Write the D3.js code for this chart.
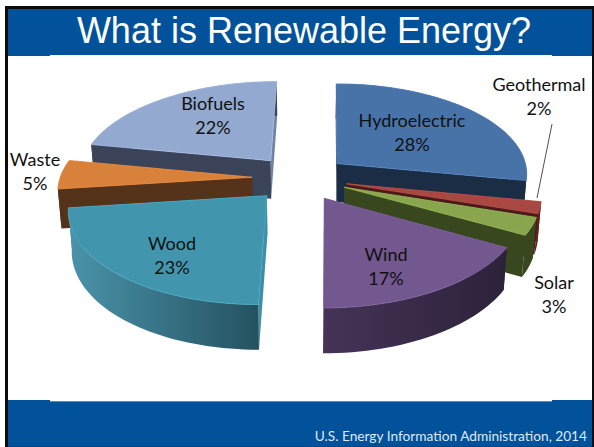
<!DOCTYPE html>
<html>
<head>
<meta charset="utf-8">
<script src="https://cdn.jsdelivr.net/npm/d3@7"></script>
<style>
html, body { margin: 0; padding: 0; background: #fff; overflow: hidden; }
svg { display: block; }
</style>
</head>
<body>
<div id="chart"></div>
<script>
// --- Data ---
const categories = ["Hydroelectric", "Geothermal", "Solar", "Wind", "Wood", "Waste", "Biofuels"];
const shares = [28, 2, 3, 17, 23, 5, 22];

// --- Colours, one per category ---
const topColors = ["#4873a9", "#a94743", "#89a64f", "#73578f", "#4196ae", "#d7813b", "#93a9cf"];
const startWallColors = ["#1d2f47", "#4a1b1a", "#39471f", "#2f2339", "#3f8ea6", "#55321a", "#3a4358"];
const endWallColors = ["#1b2d44", "#4a1b1a", "#39471f", "#4c3a60", "#3f8ea6", "#55321a", "#6f83a5"];
const rimLeftColors = ["#1b2d44", "#6d1f1c", "#39471f", "#463358", "#4a93ab", "#55321a", "#3a4358"];
const rimRightColors = ["#1b2d44", "#4a1b1a", "#39471f", "#2c2239", "#24525f", "#55321a", "#3a4358"];

const width = 594, height = 447;

// --- Fake 3D projection of the flat pie ---
const cx = 300, cy = 178;
const radiusX = 192, radiusY = 92;
const explode = 0.25;
const perspective = 0.115;
const skew = -3.5;
const depth = 39;
const depthShrink = 0.985;

function project(X, Y, z) {
    const p = 1 / (1 - perspective * Y);
    const q = z ? depthShrink : 1;
    return [cx + (radiusX * X * q + skew * Y) * p, cy + radiusY * Y * p + (z ? depth * p : 0)];
}

const svg = d3.select("#chart").append("svg")
    .attr("width", width).attr("height", height)
    .attr("viewBox", [0, 0, width, height]);

const defs = svg.append("defs");

// --- Slide frame ---
const frameBlue = "#01529b";
svg.append("rect").attr("x", 5).attr("y", 6).attr("width", 589).attr("height", 441).attr("fill", "#0b0b0b");
svg.append("rect").attr("x", 8).attr("y", 9).attr("width", 584).attr("height", 438).attr("fill", "#fff");
svg.append("rect").attr("x", 8).attr("y", 9).attr("width", 584).attr("height", 46).attr("fill", frameBlue);
svg.append("rect").attr("x", 8).attr("y", 55).attr("width", 42).attr("height", 1).attr("fill", frameBlue);
svg.append("rect").attr("x", 552).attr("y", 55).attr("width", 40).attr("height", 1).attr("fill", frameBlue);
svg.append("rect").attr("x", 8).attr("y", 402).attr("width", 584).attr("height", 45).attr("fill", frameBlue);
svg.append("rect").attr("x", 8).attr("y", 400).attr("width", 42).attr("height", 2).attr("fill", frameBlue);
svg.append("rect").attr("x", 50).attr("y", 401).attr("width", 505).attr("height", 1).attr("fill", "#5b8fc0");
svg.append("rect").attr("x", 552).attr("y", 400).attr("width", 40).attr("height", 2).attr("fill", frameBlue);
svg.append("rect").attr("x", 8).attr("y", 446).attr("width", 584).attr("height", 1).attr("fill", "#014785");

svg.append("text").attr("x", 304).attr("y", 43)
    .attr("text-anchor", "middle")
    .style("font-family", "'Liberation Sans', Arial, sans-serif")
    .style("font-size", "36px")
    .style("fill", "#fff")
    .text("What is Renewable Energy?");

// --- Pie ---
const pie = d3.pie().sort(null).startAngle(0).endAngle(2 * Math.PI);
const arcs = pie(shares).map((d, i) => {
    const mid = (d.startAngle + d.endAngle) / 2;
    return { ...d, i, ox: explode * Math.sin(mid), oy: -explode * Math.cos(mid) };
});

const line = d3.line();

function rimPoint(d, a, z) {
    return project(d.ox + Math.sin(a), d.oy - Math.cos(a), z);
}

function rimPoints(d, z) {
    const n = Math.max(8, Math.round((d.endAngle - d.startAngle) * 30));
    return d3.range(n + 1).map(k => rimPoint(d, d.startAngle + (d.endAngle - d.startAngle) * k / n, z));
}

// back slices first, so the nearer ones cover them
const order = arcs.slice().sort((a, b) => a.oy - b.oy);

const slices = svg.selectAll("g.slice").data(order).join("g").attr("class", "slice");

slices.append("path")
    .attr("d", d => {
        const c = project(d.ox, d.oy, false), cb = project(d.ox, d.oy, true);
        return line([c, rimPoint(d, d.startAngle, false), rimPoint(d, d.startAngle, true), cb]) + "Z";
    })
    .attr("fill", d => startWallColors[d.i]);

slices.append("path")
    .attr("d", d => {
        const c = project(d.ox, d.oy, false), cb = project(d.ox, d.oy, true);
        return line([c, rimPoint(d, d.endAngle, false), rimPoint(d, d.endAngle, true), cb]) + "Z";
    })
    .attr("fill", d => endWallColors[d.i]);

slices.append("path")
    .attr("d", d => line(rimPoints(d, false).concat(rimPoints(d, true).reverse())) + "Z")
    .attr("fill", d => {
        const pts = rimPoints(d, false);
        const xs = d3.extent(pts, p => p[0]);
        const id = "rim" + d.i;
        const grad = defs.append("linearGradient").attr("id", id)
            .attr("gradientUnits", "userSpaceOnUse")
            .attr("x1", xs[0]).attr("x2", xs[1]).attr("y1", 0).attr("y2", 0);
        grad.append("stop").attr("offset", "0%").attr("stop-color", rimLeftColors[d.i]);
        grad.append("stop").attr("offset", "100%").attr("stop-color", rimRightColors[d.i]);
        return `url(#${id})`;
    });

slices.append("path")
    .attr("d", d => line([project(d.ox, d.oy, false)].concat(rimPoints(d, false))) + "Z")
    .attr("fill", d => topColors[d.i])
    .attr("stroke", d => d3.color(topColors[d.i]).brighter(0.35))
    .attr("stroke-width", 0.8)
    .attr("stroke-linejoin", "round");

// --- Leader line for Geothermal ---
svg.append("line")
    .attr("x1", 552).attr("y1", 124).attr("x2", 537).attr("y2", 198)
    .attr("stroke", "#222").attr("stroke-width", 0.8);

// --- Labels ---
const labelX = [412, 539, 554, 386, 172, 35, 213];
const labelY = [127, 91, 289, 261, 250, 166, 110];
const labelGap = 24;

const labels = svg.selectAll("g.label").data(arcs).join("g").attr("class", "label")
    .style("font-family", "Lato, Carlito, Calibri, sans-serif")
    .style("font-size", "18px")
    .style("fill", "#111")
    .attr("text-anchor", "middle");

labels.append("text").attr("x", d => labelX[d.i]).attr("y", d => labelY[d.i])
    .text(d => categories[d.i]);
labels.append("text").attr("x", d => labelX[d.i]).attr("y", d => labelY[d.i] + labelGap)
    .text(d => `${d.data}%`);

// --- Source line ---
svg.append("text").attr("x", 587).attr("y", 441)
    .attr("text-anchor", "end")
    .style("font-family", "Lato, Carlito, Calibri, sans-serif")
    .style("font-size", "13.7px")
    .style("fill", "#dfe8f2")
    .text("U.S. Energy Information Administration, 2014");
</script>
</body>
</html>
